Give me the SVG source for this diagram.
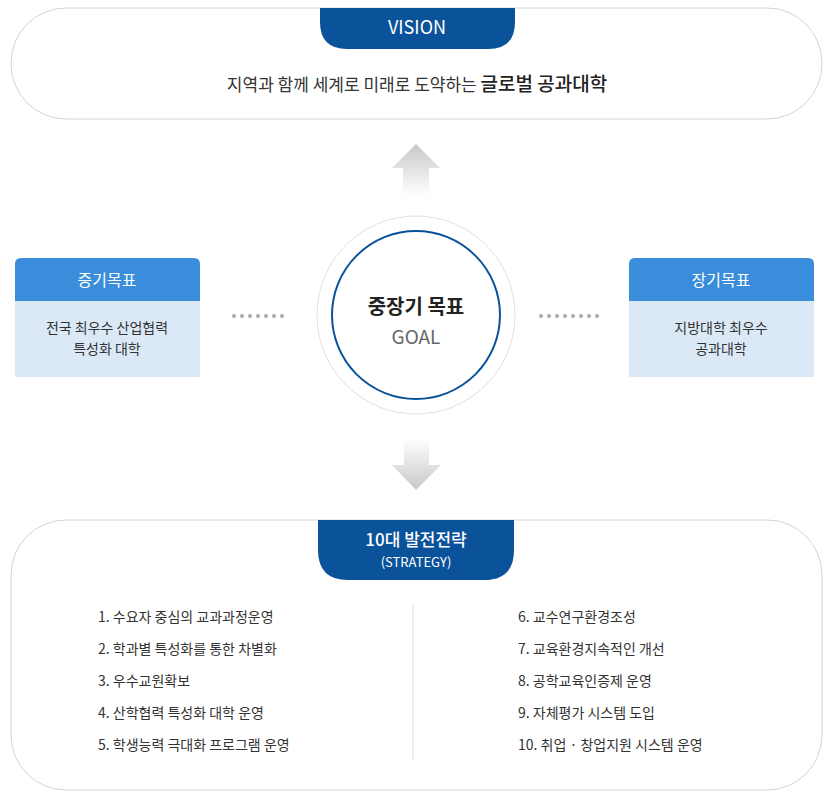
<svg xmlns="http://www.w3.org/2000/svg" width="834" height="805" viewBox="0 0 834 805">
<style>
text{font-family:"Noto Sans CJK KR","Noto Sans",sans-serif}
.w{fill:#fff}
.li{font-size:14px;fill:#333}
.dot{stroke:#aaa;stroke-width:4;stroke-linecap:round;stroke-dasharray:0 8}
</style>
<defs>
<linearGradient id="gu" x1="0" y1="0" x2="0" y2="1"><stop offset="0" stop-color="#c8c8c8"/><stop offset="1" stop-color="#c8c8c8" stop-opacity="0"/></linearGradient>
<linearGradient id="gd" x1="0" y1="0" x2="0" y2="1"><stop offset="0" stop-color="#c8c8c8" stop-opacity="0"/><stop offset="1" stop-color="#c8c8c8"/></linearGradient>
</defs>
<g id="vision">
<rect x="11" y="8" width="811" height="111" rx="55" fill="#fff" stroke="#d4d4d4"/>
<path d="M320 8H515V22Q515 49 488 49H347Q320 49 320 22Z" fill="#0a5299"/>
<text x="417" y="34" text-anchor="middle" font-size="18" class="w">VISION</text>
<text x="417" y="91" text-anchor="middle" font-size="17" fill="#333">지역과 함께 세계로 미래로 도약하는 <tspan font-size="19" font-weight="500" fill="#222">글로벌 공과대학</tspan></text>
</g>
<g id="connectors">
<path d="M416 144L440 168H429V196H403V168H392Z" fill="url(#gu)"/>
<path d="M404 438H429V465H441L416 490L392 465H404Z" fill="url(#gd)"/>
<line x1="234" y1="316" x2="290" y2="316" class="dot"/>
<line x1="541" y1="316" x2="598" y2="316" class="dot"/>
</g>
<g id="goal">
<circle cx="416" cy="315" r="99" fill="#fff" stroke="#e0e0e0"/>
<circle cx="416" cy="315" r="84" fill="#fff" stroke="#0a5299" stroke-width="2"/>
<text x="416" y="314" text-anchor="middle" font-size="20" font-weight="bold" fill="#222">중장기 목표</text>
<text x="416" y="344" text-anchor="middle" font-size="19" fill="#666">GOAL</text>
</g>
<g id="mid">
<path d="M15 301V264Q15 258 21 258H194Q200 258 200 264V301Z" fill="#3a8ddb"/>
<rect x="15" y="301" width="185" height="76" fill="#dbe9f7"/>
<text x="107" y="286" text-anchor="middle" font-size="16" class="w">중기목표</text>
<text x="107" y="333" text-anchor="middle" font-size="14" fill="#333">전국 최우수 산업협력</text>
<text x="107" y="354" text-anchor="middle" font-size="14" fill="#333">특성화 대학</text>
</g>
<g id="long">
<path d="M629 301V264Q629 258 635 258H808Q814 258 814 264V301Z" fill="#3a8ddb"/>
<rect x="629" y="301" width="185" height="76" fill="#dbe9f7"/>
<text x="721" y="286" text-anchor="middle" font-size="16" class="w">장기목표</text>
<text x="721" y="333" text-anchor="middle" font-size="14" fill="#333">지방대학 최우수</text>
<text x="721" y="354" text-anchor="middle" font-size="14" fill="#333">공과대학</text>
</g>
<g id="strategy">
<rect x="11" y="520" width="811" height="270" rx="55" fill="#fff" stroke="#d4d4d4"/>
<path d="M318 520H514V550Q514 580 484 580H348Q318 580 318 550Z" fill="#0a5299"/>
<text x="416" y="546" text-anchor="middle" font-size="17" font-weight="500" class="w">10대 발전전략</text>
<text x="416" y="567" text-anchor="middle" font-size="13" class="w">(STRATEGY)</text>
<line x1="413" y1="605" x2="413" y2="760" stroke="#ddd"/>
<text class="li" x="98" y="622">1. 수요자 중심의 교과과정운영</text>
<text class="li" x="98" y="654">2. 학과별 특성화를 통한 차별화</text>
<text class="li" x="98" y="686">3. 우수교원확보</text>
<text class="li" x="98" y="718">4. 산학협력 특성화 대학 운영</text>
<text class="li" x="98" y="750">5. 학생능력 극대화 프로그램 운영</text>
<text class="li" x="518" y="622">6. 교수연구환경조성</text>
<text class="li" x="518" y="654">7. 교육환경지속적인 개선</text>
<text class="li" x="518" y="686">8. 공학교육인증제 운영</text>
<text class="li" x="518" y="718">9. 자체평가 시스템 도입</text>
<text class="li" x="518" y="750">10. 취업 · 창업지원 시스템 운영</text>
</g>
</svg>
